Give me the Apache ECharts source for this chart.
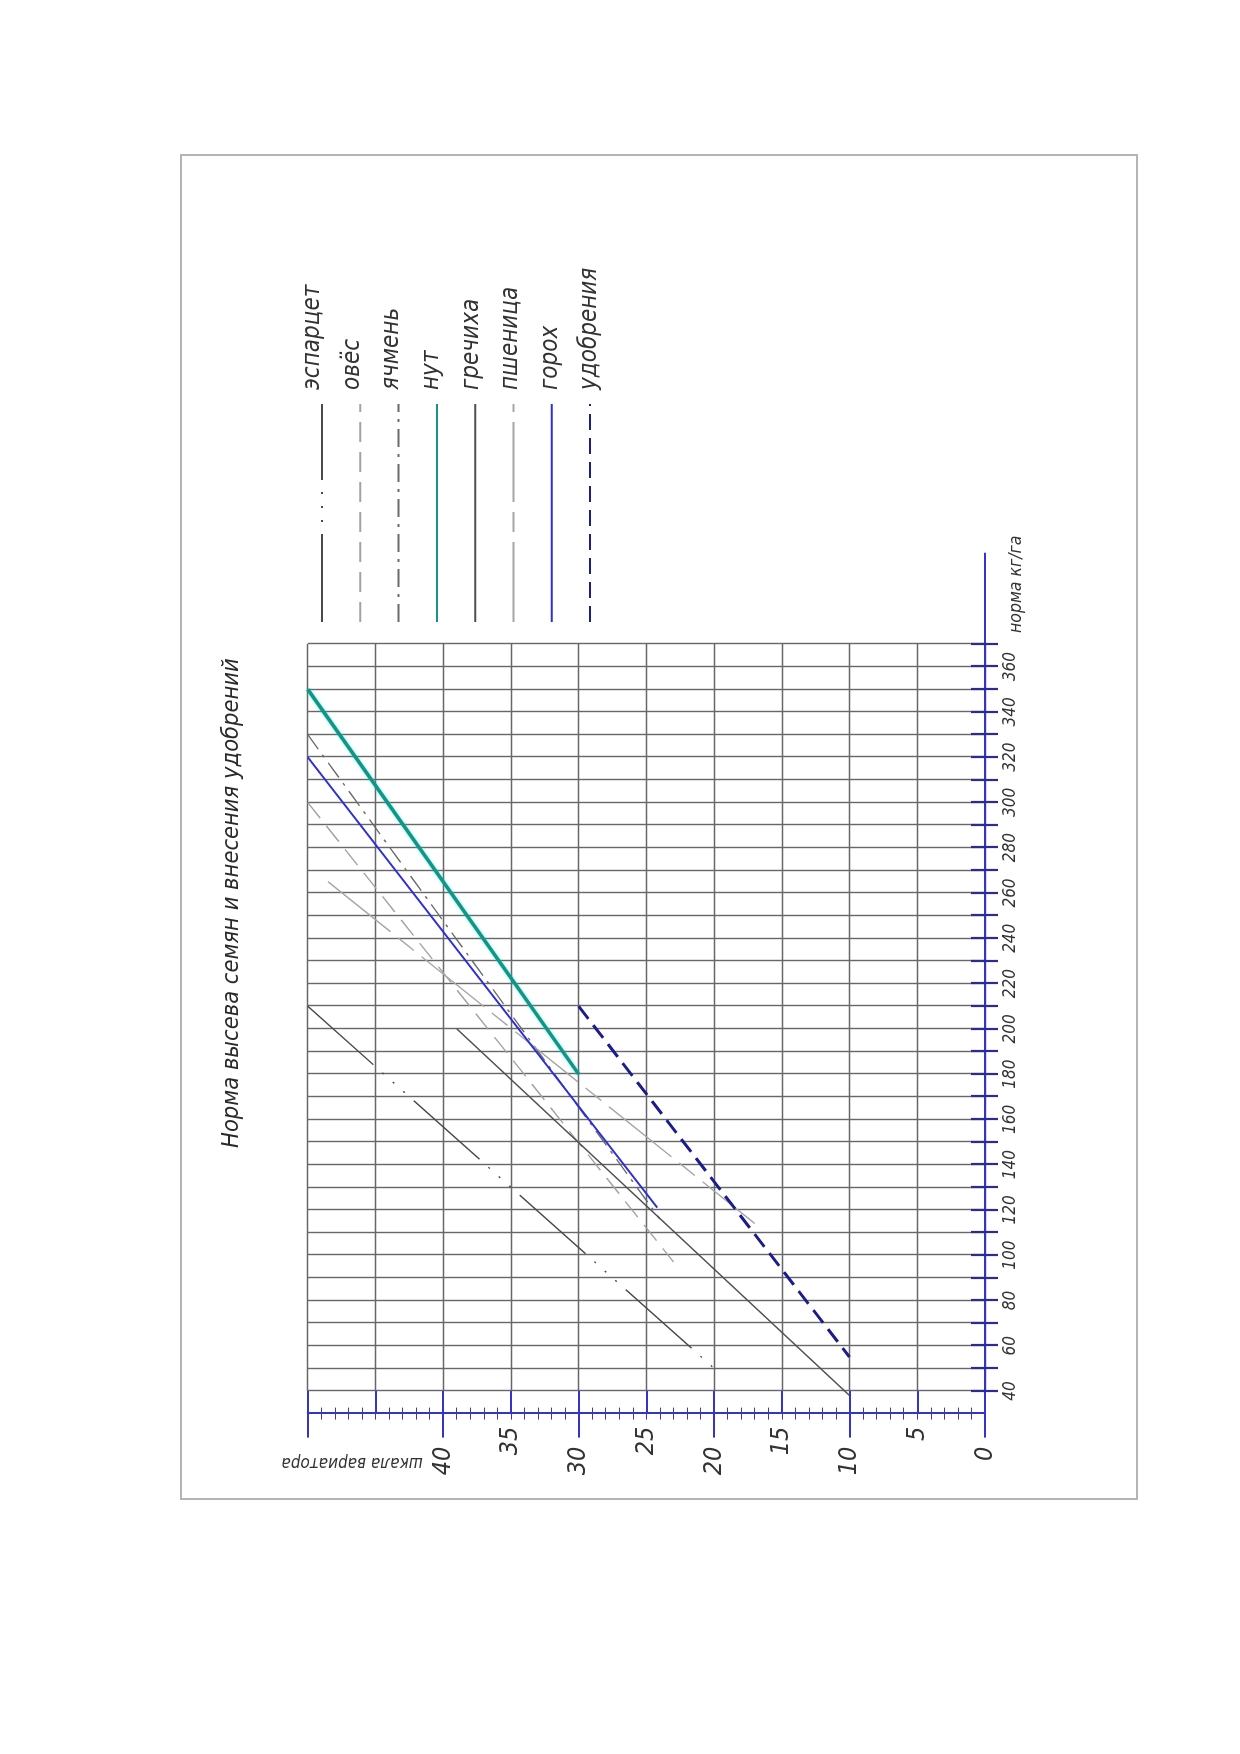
<!DOCTYPE html>
<html>
<head>
<meta charset="utf-8">
<title>Норма высева семян и внесения удобрений</title>
<script src="https://cdn.jsdelivr.net/npm/echarts@6/dist/echarts.min.js"></script>
<style>
html, body { margin: 0; padding: 0; width: 1240px; height: 1754px; overflow: hidden; background: #fff; }
#frame { position: absolute; left: 180px; top: 154px; width: 958px; height: 1346px; border: 2px solid #b4b4b4; box-sizing: border-box; }
/* график нарисован "лёжа" и повёрнут на 90° против часовой стрелки, как в оригинале */
#chart { position: absolute; left: 0; top: 0; width: 1754px; height: 1240px; transform-origin: 0 0; transform: translate(0, 1754px) rotate(-90deg); }
</style>
</head>
<body>
<div id="frame"></div>
<div id="chart"></div>
<script>
var FONT = "'DejaVu Sans Condensed', 'Liberation Sans Narrow', 'DejaVu Sans', sans-serif";

// точки линий: [шкала вариатора, норма кг/га]
var esparcet  = [[50, 210], [20, 50]];
var oves      = [[50, 300], [23, 97]];
var yachmen   = [[50, 330], [24, 116]];
var nut       = [[50, 350], [30, 180]];
var grechiha  = [[39, 200], [10, 38]];
var pshenica  = [[48.5, 265], [17, 114]];
var goroh     = [[50, 320], [24.2, 121]];
var udobrenia = [[30, 210], [10, 55]];

var names = ['эспарцет', 'овёс', 'ячмень', 'нут', 'гречиха', 'пшеница', 'горох', 'удобрения'];

// подписи осей
var normaLabels = [40, 60, 80, 100, 120, 140, 160, 180, 200, 220, 240, 260, 280, 300, 320, 340, 360];
var varLabels = [0, 5, 10, 15, 20, 25, 30, 35, 40];

var BLUE = '#3434cc';
var TICK = '#2c2c8c';
var GRID = '#676767';

var chart = echarts.init(document.getElementById('chart'), null, { renderer: 'canvas', width: 1754, height: 1240 });

function line(name, pts, color, width, type, extra) {
    var s = {
        name: name,
        type: 'line',
        xAxisIndex: 0,
        yAxisIndex: 0,
        symbol: 'none',
        silent: true,
        z: 3,
        data: pts.map(function (p) { return [p[1], p[0]]; }),
        itemStyle: { color: color },
        lineStyle: { color: color, width: width, type: type, cap: 'butt' }
    };
    if (extra) {
        for (var k in extra) s.lineStyle[k] = extra[k];
    }
    return s;
}

// легенда: отдельно образцы линий и отдельно подписи (подписи чуть сдвинуты, как в оригинале)
var legendBase = {
    orient: 'vertical',
    left: 1131,
    padding: 0,
    itemWidth: 218,
    itemHeight: 28,
    selectedMode: false,
    data: names,
    itemStyle: { opacity: 0 }
};

var option = {
    animation: false,
    backgroundColor: 'transparent',
    title: {
        text: 'Норма высева семян и внесения удобрений',
        left: 606,
        top: 220,
        padding: 0,
        textStyle: { fontFamily: FONT, fontStyle: 'italic', fontWeight: 'normal', fontSize: 23.5, color: '#2a2a2a' }
    },
    legend: [
        Object.assign({}, legendBase, {
            top: 310.8,
            itemGap: 15.9,
            formatter: function () { return ''; },
            textStyle: { fontSize: 24, lineHeight: 28 }
        }),
        Object.assign({}, legendBase, {
            top: 299,
            itemGap: 11.6,
            lineStyle: { opacity: 0 },
            textStyle: { fontFamily: FONT, fontStyle: 'italic', fontSize: 24, lineHeight: 28, color: '#333', padding: [0, 0, 0, 9] }
        })
    ],
    graphic: [{
        type: 'text',
        x: 292,
        y: 352,
        rotation: Math.PI / 2,
        silent: true,
        style: { text: 'шкала вариатора', font: 'italic 17px ' + FONT, fill: '#333', align: 'center', verticalAlign: 'middle' }
    }],
    grid: [
        { left: 340.4, top: 307.7, width: 860.1, height: 677.3, outerBoundsMode: 'none' },
        { left: 363, top: 307.7, width: 747, height: 677.3, outerBoundsMode: 'none' }
    ],
    xAxis: [{
        gridIndex: 0, type: 'value', position: 'bottom', min: 30, max: 410, interval: 10,
        axisLine: { show: true, onZero: false, lineStyle: { color: BLUE, width: 2 } },
        axisTick: { show: false },
        axisLabel: { show: false },
        splitLine: { show: false },
        name: 'норма кг/га',
        nameLocation: 'end',
        nameGap: 18,
        nameTextStyle: { fontFamily: FONT, fontStyle: 'italic', fontSize: 17.5, color: '#333', align: 'right', verticalAlign: 'top', padding: [22, 0, 0, 0] }
    }, {
        gridIndex: 1, type: 'value', position: 'bottom', min: 40, max: 370, interval: 10,
        axisLine: { show: false, onZero: false },
        axisTick: { show: true, inside: true, length: 14, lineStyle: { color: TICK, width: 2.2 } },
        axisLabel: {
            show: true, margin: 17, fontFamily: FONT, fontStyle: 'italic', fontSize: 17, color: '#333',
            formatter: function (v) { return normaLabels.indexOf(v) >= 0 ? String(v) : ''; }
        },
        splitLine: { show: true, lineStyle: { color: GRID, width: 1.4 } }
    }, {
        gridIndex: 1, type: 'value', position: 'bottom', min: 40, max: 370, interval: 10,
        axisLine: { show: false, onZero: false },
        axisTick: { show: true, inside: false, length: 13, lineStyle: { color: TICK, width: 2.2 } },
        axisLabel: { show: false },
        splitLine: { show: false }
    }],
    yAxis: [{
        gridIndex: 0, type: 'value', position: 'left', min: 0, max: 50, interval: 5,
        axisLine: { show: true, onZero: false, lineStyle: { color: BLUE, width: 2 } },
        axisTick: { show: true, inside: true, length: 22.6, lineStyle: { color: BLUE, width: 2 } },
        minorTick: { show: true, splitNumber: 5, length: 6, lineStyle: { color: '#3c3c9c', width: 1 } },
        axisLabel: {
            show: true, margin: 13,
            formatter: function (v) {
                if (varLabels.indexOf(v) < 0) return '';
                return v % 10 === 0 ? '{a|' + v + '}' : '{b|' + v + '}';
            },
            rich: {
                a: { fontFamily: FONT, fontStyle: 'italic', fontSize: 25, color: '#333', padding: [0, 20, 0, 0] },
                b: { fontFamily: FONT, fontStyle: 'italic', fontSize: 25, color: '#333' }
            }
        },
        splitLine: { show: false }
    }, {
        gridIndex: 0, type: 'value', position: 'left', min: 0, max: 50, interval: 10,
        axisLine: { show: false, onZero: false },
        axisTick: { show: true, inside: false, length: 24, lineStyle: { color: BLUE, width: 2 } },
        minorTick: { show: true, splitNumber: 10, length: 6, lineStyle: { color: '#3c3c9c', width: 1 } },
        axisLabel: { show: false },
        splitLine: { show: false }
    }, {
        gridIndex: 1, type: 'value', position: 'left', min: 0, max: 50, interval: 5,
        axisLine: { show: false, onZero: false },
        axisTick: { show: false },
        axisLabel: { show: false },
        splitLine: { show: true, lineStyle: { color: GRID, width: 1.4 } }
    }],
    series: [
        line('эспарцет', esparcet, '#4a4a4a', 1.4, [88, 12, 2, 12, 2, 12, 2, 12]),
        line('овёс', oves, '#a2a2a2', 1.4, [20, 10]),
        line('ячмень', yachmen, '#6a6a6a', 1.4, [18, 7, 3, 7]),
        line('нут', nut, '#129585', 3.5, 'solid', { shadowBlur: 3, shadowColor: 'rgba(0,220,220,0.6)' }),
        line('гречиха', grechiha, '#4e4e4e', 1.4, 'solid'),
        line('пшеница', pshenica, '#a6a6a6', 1.4, [80, 10, 20, 10]),
        line('горох', goroh, '#2e2ed2', 2, 'solid'),
        line('удобрения', udobrenia, '#1c1c8c', 3, [16, 8])
    ]
};

chart.setOption(option);
</script>
</body>
</html>
